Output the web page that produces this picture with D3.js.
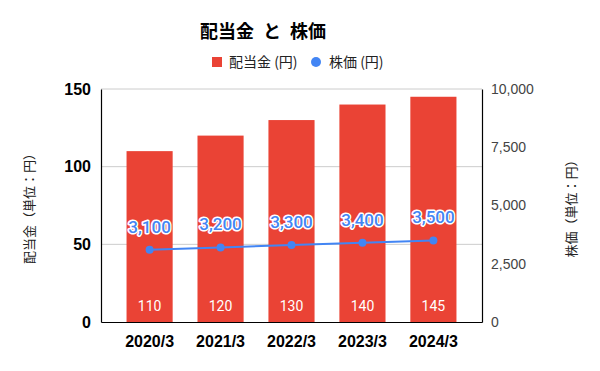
<!DOCTYPE html>
<html>
<head>
<meta charset="utf-8">
<script src="https://cdn.jsdelivr.net/npm/d3@7"></script>
<style>
  body { margin: 0; background: #fff; }
  svg { display: block; }
</style>
</head>
<body>
<div id="chart"></div>
<script>
// Data
const years = ["2020/3", "2021/3", "2022/3", "2023/3", "2024/3"];
const dividends = [110, 120, 130, 140, 145];
const prices = [3100, 3200, 3300, 3400, 3500];
const leftTicks = [0, 50, 100, 150];
const rightTicks = [0, 2500, 5000, 7500, 10000];

const cjk = "'Noto Sans CJK JP', sans-serif";
const red = "#ea4335";
const blue = "#4285f4";

const dimensions = {
  width: 600,
  height: 371,
  margin: { top: 89, right: 118, bottom: 49, left: 101 },
};
dimensions.containerWidth =
  dimensions.width - dimensions.margin.left - dimensions.margin.right;
dimensions.containerHeight =
  dimensions.height - dimensions.margin.top - dimensions.margin.bottom;

const svg = d3
  .select("#chart")
  .append("svg")
  .attr("width", dimensions.width)
  .attr("height", dimensions.height);

const container = svg
  .append("g")
  .attr("transform", `translate(${dimensions.margin.left}, ${dimensions.margin.top})`);

// Scales
const xScale = d3
  .scaleBand()
  .domain(years)
  .range([0, dimensions.containerWidth])
  .paddingInner(0.35)
  .paddingOuter(0.36);

const yLeft = d3
  .scaleLinear()
  .domain([0, 150])
  .range([dimensions.containerHeight, 0]);

const yRight = d3
  .scaleLinear()
  .domain([0, 10000])
  .range([dimensions.containerHeight, 0]);

// Gridlines
container
  .append("g")
  .selectAll("line")
  .data(leftTicks.filter((d) => d > 0))
  .join("line")
  .attr("x1", 0)
  .attr("x2", dimensions.containerWidth)
  .attr("y1", (d) => yLeft(d))
  .attr("y2", (d) => yLeft(d))
  .attr("stroke", "#cccccc")
  .attr("stroke-width", 1);

// Bars
container
  .selectAll("rect.bar")
  .data(dividends)
  .join("rect")
  .attr("class", "bar")
  .attr("x", (d, i) => xScale(years[i]))
  .attr("y", (d) => yLeft(d))
  .attr("width", xScale.bandwidth())
  .attr("height", (d) => dimensions.containerHeight - yLeft(d))
  .attr("fill", red);

// Bar labels
container
  .selectAll("text.bar-label")
  .data(dividends)
  .join("text")
  .attr("class", "bar-label")
  .attr("x", (d, i) => xScale(years[i]) + xScale.bandwidth() / 2)
  .attr("y", dimensions.containerHeight - 11)
  .attr("text-anchor", "middle")
  .attr("font-family", "Roboto, sans-serif")
  .attr("font-size", 14)
  .attr("fill", "#ffffff")
  .text((d) => d);

// Axes
const xAxisG = container
  .append("g")
  .attr("transform", `translate(0, ${dimensions.containerHeight})`)
  .call(d3.axisBottom(xScale).tickSize(0).tickPadding(11));
xAxisG.select(".domain").attr("stroke", "#000").attr("stroke-width", 1.2);
xAxisG
  .selectAll(".tick text")
  .attr("font-family", "Arial, 'Liberation Sans', sans-serif")
  .attr("font-weight", "bold")
  .attr("font-size", 16)
  .attr("fill", "#000")
  .attr("dy", "0.9em");

const yAxisG = container
  .append("g")
  .call(d3.axisLeft(yLeft).tickValues(leftTicks).tickSize(0).tickPadding(10));
yAxisG.select(".domain").attr("stroke", "#000").attr("stroke-width", 1.2);
yAxisG
  .selectAll(".tick text")
  .attr("font-family", "Arial, 'Liberation Sans', sans-serif")
  .attr("font-weight", "bold")
  .attr("font-size", 16)
  .attr("fill", "#000");

const yRightG = container
  .append("g")
  .attr("transform", `translate(${dimensions.containerWidth}, 0)`)
  .call(
    d3.axisRight(yRight).tickValues(rightTicks).tickSize(0).tickPadding(9).tickFormat(d3.format(","))
  );
yRightG.select(".domain").attr("stroke", "#000").attr("stroke-width", 1.2);
yRightG
  .selectAll(".tick text")
  .attr("font-family", "Arial, 'Liberation Sans', sans-serif")
  .attr("font-size", 14)
  .attr("fill", "#444");

// Price line
const line = d3
  .line()
  .x((d, i) => xScale(years[i]) + xScale.bandwidth() / 2)
  .y((d) => yRight(d));

container
  .append("path")
  .datum(prices)
  .attr("d", line)
  .attr("fill", "none")
  .attr("stroke", blue)
  .attr("stroke-width", 2);

container
  .selectAll("circle.pt")
  .data(prices)
  .join("circle")
  .attr("class", "pt")
  .attr("cx", (d, i) => xScale(years[i]) + xScale.bandwidth() / 2)
  .attr("cy", (d) => yRight(d))
  .attr("r", 4)
  .attr("fill", blue);

container
  .selectAll("text.pt-label")
  .data(prices)
  .join("text")
  .attr("class", "pt-label")
  .attr("x", (d, i) => xScale(years[i]) + xScale.bandwidth() / 2)
  .attr("y", (d) => yRight(d) - 17)
  .attr("text-anchor", "middle")
  .attr("font-family", "Roboto, sans-serif")
  .attr("font-size", 17)
  .attr("font-weight", 500)
  .attr("fill", blue)
  .attr("stroke", "#ffffff")
  .attr("stroke-width", 3)
  .attr("stroke-linejoin", "round")
  .attr("paint-order", "stroke")
  .text((d) => d3.format(",")(d));

// Axis titles
svg
  .append("text")
  .attr("transform", `translate(34, ${dimensions.margin.top + dimensions.containerHeight / 2}) rotate(-90)`)
  .attr("text-anchor", "middle")
  .attr("font-family", cjk)
  .attr("font-size", 13)
  .attr("fill", "#222")
  .text("配当金（単位：円）");

svg
  .append("text")
  .attr("transform", `translate(576, ${dimensions.margin.top + dimensions.containerHeight / 2}) rotate(-90)`)
  .attr("text-anchor", "middle")
  .attr("font-family", cjk)
  .attr("font-size", 13)
  .attr("fill", "#222")
  .text("株価（単位：円）");

// Title
svg
  .append("text")
  .attr("x", 263)
  .attr("y", 38)
  .attr("text-anchor", "middle")
  .attr("font-family", cjk)
  .attr("font-weight", "bold")
  .attr("font-size", 18)
  .attr("word-spacing", 5)
  .attr("fill", "#000")
  .text("配当金 と 株価");

// Legend
const legend = svg.append("g").attr("font-family", cjk).attr("font-size", 14).attr("fill", "#222");
legend.append("rect").attr("x", 212).attr("y", 57).attr("width", 10).attr("height", 10).attr("fill", red);
legend.append("text").attr("x", 229).attr("y", 67).text("配当金 (円)");
legend.append("circle").attr("cx", 316).attr("cy", 62).attr("r", 5).attr("fill", blue);
legend.append("text").attr("x", 329).attr("y", 67).text("株価 (円)");
</script>
</body>
</html>
